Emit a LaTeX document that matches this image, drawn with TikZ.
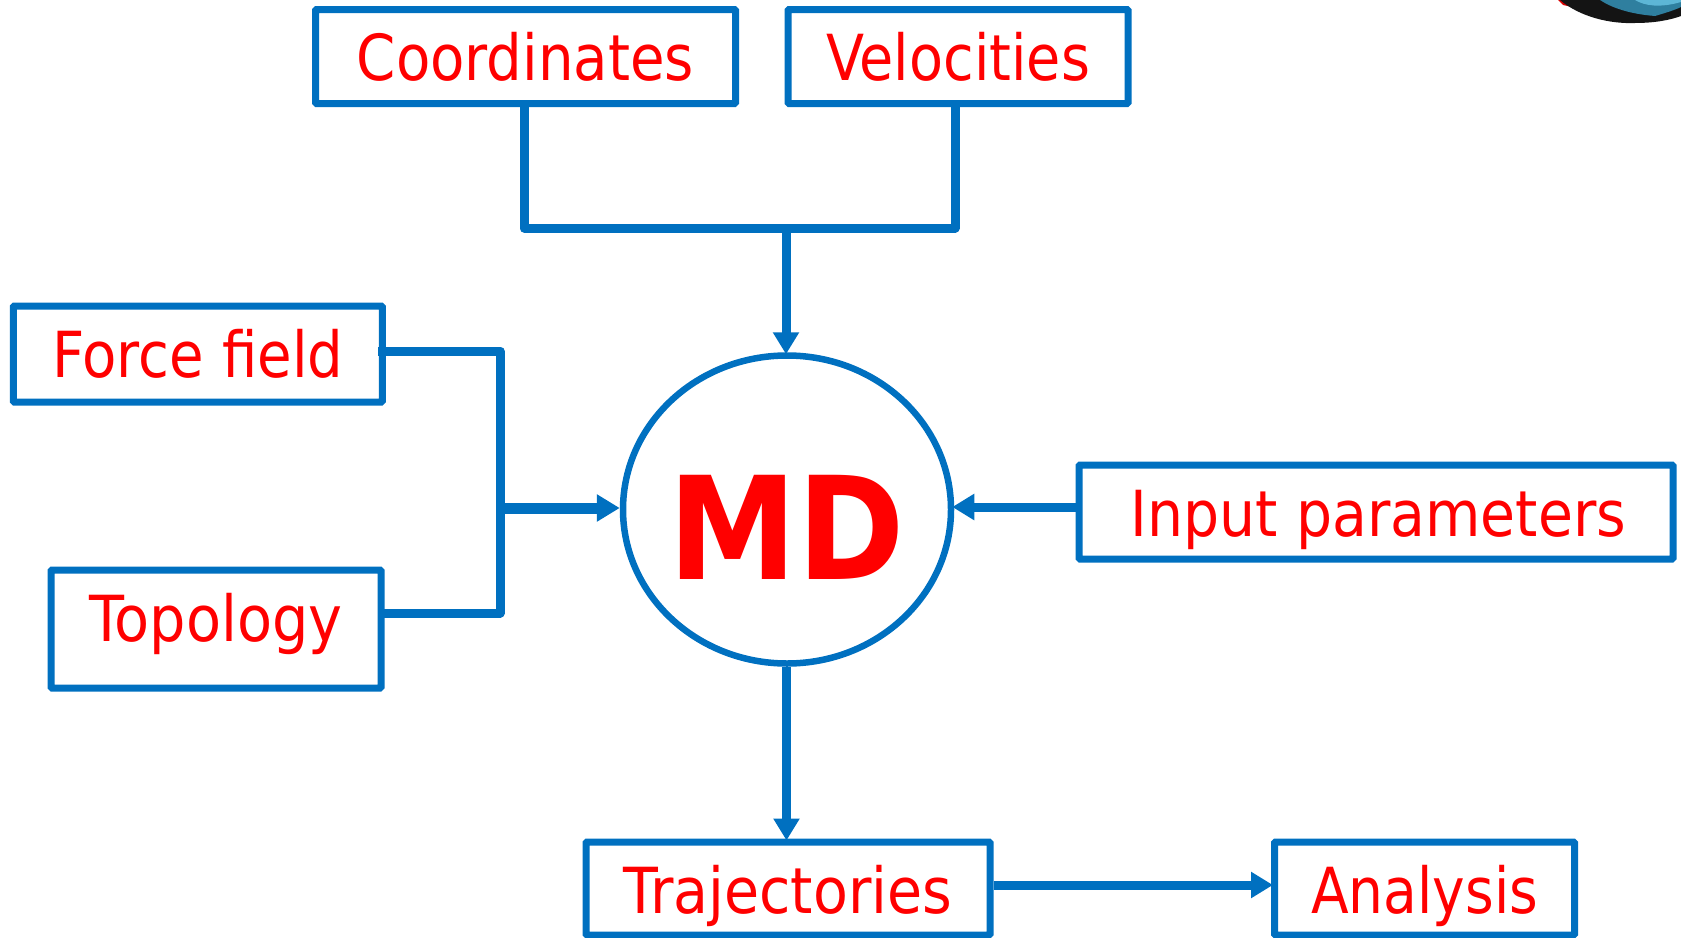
\documentclass[tikz,border=0pt]{standalone}
\usepackage{fontspec}
\usetikzlibrary{arrows.meta,shapes.geometric}
\setmainfont[FakeStretch=0.885]{DejaVu Sans}
\newfontfamily\mdfont[FakeStretch=0.905]{DejaVu Sans}
\definecolor{mdblue}{HTML}{0070C0}
\definecolor{logoteal}{HTML}{2F7F9F}
\definecolor{logolight}{HTML}{5DB6D6}
\newcommand{\boxtext}[3]{\raisebox{-#1pt}[0pt][0pt]{\scalebox{#2}[1]{#3}}}
\tikzset{
  boxnode/.style={draw=mdblue,line width=7pt,rounded corners=1pt,fill=white,text=red,inner sep=0pt,font=\fontsize{63.5}{70}\selectfont},
  link/.style={draw=mdblue,line width=9pt,line join=round},
  arrowlink/.style={link,shorten >=-2pt,-{Triangle[length=22pt,width=25pt]}}
}
\begin{document}
\begin{tikzpicture}[x=1pt,y=-1pt]
\useasboundingbox (0,0) rectangle (1681,937);
% logo fragment in the corner
\begin{scope}
\clip (0,0) rectangle (1681,937);
\fill[red!85!black] (1556,-2) -- (1574,-2) -- (1572,7) -- (1563,5) -- cycle;
\fill[black!92] (1560,0) .. controls (1580,17) and (1610,24) .. (1635,23) .. controls (1655,23) and (1670,20) .. (1681,16) -- (1681,0) -- cycle;
\fill[logoteal] (1600,0) .. controls (1612,8) and (1630,14) .. (1655,16) .. controls (1665,13) and (1675,10) .. (1681,7) -- (1681,0) -- cycle;
\fill[logolight] (1635,0) .. controls (1645,6) and (1660,8) .. (1681,2) -- (1681,0) -- cycle;
\end{scope}

\node[boxnode,minimum width=420pt,minimum height=94pt] (coord) at (525.5,56.5) {\boxtext{24}{1.0}{Coordinates}};
\node[boxnode,minimum width=340pt,minimum height=94pt] (vel) at (958,56.5) {\boxtext{24}{0.99}{Velocities}};
\node[boxnode,minimum width=369pt,minimum height=96pt] (ff) at (197.75,354) {\boxtext{23}{1.0}{Force field}};
\node[boxnode,minimum width=330pt,minimum height=118pt] (topo) at (216,629) {\boxtext{12}{1.02}{Topology}};
\node[boxnode,minimum width=594pt,minimum height=94pt] (input) at (1376,512) {\hspace*{5pt}\boxtext{24}{1.012}{Input parameters}};
\node[boxnode,minimum width=404pt,minimum height=93pt] (traj) at (788,888.5) {\boxtext{25}{1.015}{Trajectories}};
\node[boxnode,minimum width=300pt,minimum height=93pt] (ana) at (1424.5,888.5) {\boxtext{25}{0.98}{Analysis}};
\node[ellipse,draw=mdblue,line width=6.5pt,fill=white,text=red,inner sep=0pt,minimum width=328pt,minimum height=308pt,font=\mdfont\bfseries\fontsize{143}{150}\selectfont] (md) at (787,509.5) {\makebox[0pt]{\boxtext{69.5}{1.0}{MD}}};

\coordinate (jtop) at (786,228);
\coordinate (jleft) at (500,508);
\coordinate (ffout) at (378,351);
\coordinate (topoout) at (381,613);

\draw[link] (coord.south -| 524,0) |- (jtop) -| (vel.south -| 955,0);
\draw[arrowlink] (jtop) -- (md.north -| jtop);
\draw[link] (ffout) -| (jleft);
\draw[link] (topoout) -| (jleft);
\draw[link,line width=11pt,-{Triangle[length=23pt,width=26pt]}] (jleft) -- (md.west |- jleft);
\draw[arrowlink] (input.west |- 0,507) -- (md.east |- 0,507);
\draw[arrowlink] (md.south -| 786.5,0) -- (traj.north -| 786.5,0);
\draw[arrowlink] (traj.east |- 0,885) -- (ana.west |- 0,885);
\end{tikzpicture}
\end{document}
